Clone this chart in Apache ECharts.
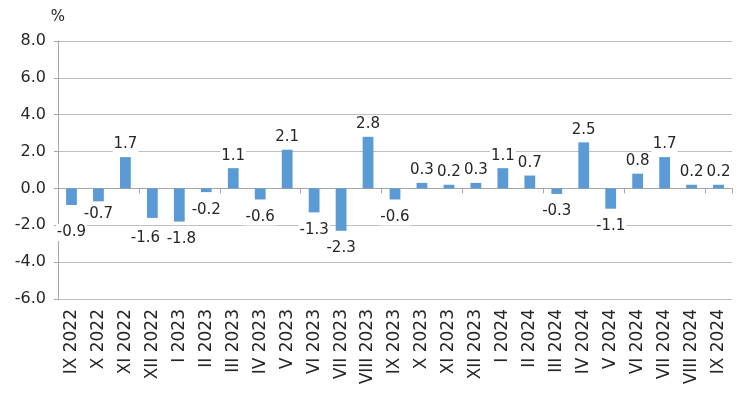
<!DOCTYPE html>
<html>
<head>
<meta charset="utf-8">
<script src="https://cdn.jsdelivr.net/npm/echarts@6/dist/echarts.min.js"></script>
<style>
  html, body { margin: 0; padding: 0; background: #fff; }
  #chart { width: 740px; height: 399px; }
</style>
</head>
<body>
<div id="chart"></div>
<script>
// месеци и промени во %
const months = ['IX 2022', 'X 2022', 'XI 2022', 'XII 2022',
  'I 2023', 'II 2023', 'III 2023', 'IV 2023', 'V 2023', 'VI 2023',
  'VII 2023', 'VIII 2023', 'IX 2023', 'X 2023', 'XI 2023', 'XII 2023',
  'I 2024', 'II 2024', 'III 2024', 'IV 2024', 'V 2024', 'VI 2024',
  'VII 2024', 'VIII 2024', 'IX 2024'];
const values = [-0.9, -0.7, 1.7, -1.6, -1.8, -0.2, 1.1, -0.6, 2.1, -1.3,
  -2.3, 2.8, -0.6, 0.3, 0.2, 0.3, 1.1, 0.7, -0.3, 2.5, -1.1, 0.8, 1.7, 0.2, 0.2];
const yTicks = { min: -6, max: 8, step: 2 };

const font = '"DejaVu Sans", Verdana, sans-serif';
const chart = echarts.init(document.getElementById('chart'));

// label gap from bar end (a few labels were nudged in the original)
function labelFor(v, i) {
  let dist = v >= 0 ? 4 : 9;
  let offset = [0, 0];
  if (i === 0) dist = 19;
  if (i === 1) dist = 4;
  if (i === 3) { dist = 12; offset = [-7, 0]; }
  if (i === 4) offset = [2, 0];
  return { position: v >= 0 ? 'top' : 'bottom', distance: dist, offset: offset };
}

const option = {
  animation: false,
  grid: { left: 58, right: 8, top: 41, bottom: 100 },
  xAxis: [
    {
      type: 'category',
      data: months,
      position: 'bottom',
      axisLine: { onZero: true, lineStyle: { color: '#a6a6a6', width: 1 } },
      axisTick: { show: true, length: 5, lineStyle: { color: '#a6a6a6' } },
      axisLabel: { show: false }
    },
    {
      type: 'category',
      data: months,
      position: 'bottom',
      axisLine: { show: false, onZero: false },
      axisTick: { show: false },
      axisLabel: {
        rotate: 90,
        interval: 0,
        margin: 10,
        fontFamily: font,
        fontSize: 17,
        color: '#262626'
      }
    }
  ],
  yAxis: {
    type: 'value',
    min: yTicks.min,
    max: yTicks.max,
    interval: yTicks.step,
    name: '%',
    nameLocation: 'end',
    nameGap: 16,
    nameTextStyle: { fontFamily: font, fontSize: 15, color: '#262626', align: 'center' },
    axisLine: { show: true, onZero: false, lineStyle: { color: '#a6a6a6' } },
    axisTick: { show: true, length: 4, lineStyle: { color: '#a6a6a6' } },
    axisLabel: {
      formatter: v => v.toFixed(1),
      fontFamily: font,
      fontSize: 16,
      color: '#262626',
      margin: 12
    },
    splitLine: { lineStyle: { color: '#bfbfbf', width: 1 } }
  },
  series: [{
    type: 'bar',
    xAxisIndex: 0,
    data: values.map((v, i) => ({ value: v, label: labelFor(v, i) })),
    barWidth: '40%',
    itemStyle: { color: '#5b9bd5' },
    label: {
      show: true,
      formatter: p => p.value.toFixed(1),
      fontFamily: font,
      fontSize: 15,
      color: '#262626',
      backgroundColor: '#ffffff',
      padding: [1, 1]
    }
  }]
};

chart.setOption(option);
</script>
</body>
</html>
